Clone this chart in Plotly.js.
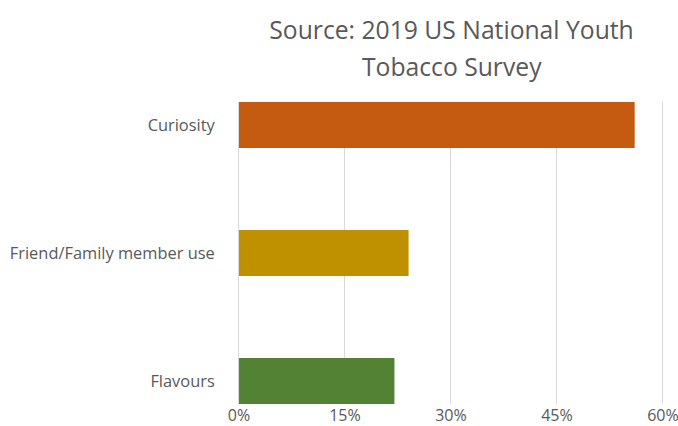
<!DOCTYPE html>
<html>
<head>
<meta charset="utf-8">
<script src="https://cdn.plot.ly/plotly-3.0.1.min.js"></script>
<style>html,body{margin:0;padding:0;background:#fff;}#chart{width:678px;height:426px;}</style>
</head>
<body>
<div id="chart"></div>
<script>
const categories = ["Curiosity", "Friend/Family member use", "Flavours"];
const values = [56, 24, 22];
const barColors = ["#c55a11", "#bf9000", "#548235"];
const xTickVals = [0, 15, 30, 45, 60];
const xTickText = ["0%", "15%", "30%", "45%", "60%"];
const titleLine1 = "Source: 2019 US National Youth";
const titleLine2 = "Tobacco Survey";

const FONT = "Open Sans, Liberation Sans, Arial, sans-serif";

const trace = {
  type: "bar",
  orientation: "h",
  y: categories,
  x: values,
  width: 0.36,
  marker: { color: barColors },
  hoverinfo: "x+y"
};

const layout = {
  width: 678,
  height: 426,
  margin: { l: 239, r: 14, t: 102, b: 22 },
  paper_bgcolor: "#ffffff",
  plot_bgcolor: "#ffffff",
  showlegend: false,
  font: { family: FONT, color: "#595959", size: 16 },
  title: {
    text: titleLine1,
    font: { size: 24.7, color: "#595959", family: FONT },
    x: 0.5, xref: "paper", xanchor: "center",
    y: 1 - 30 / 426, yref: "container", yanchor: "middle"
  },
  annotations: [{
    text: titleLine2,
    xref: "paper", yref: "paper",
    x: 0.5, y: 1 + 35 / 302,
    xanchor: "center", yanchor: "middle",
    showarrow: false,
    font: { size: 24.7, color: "#595959", family: FONT }
  }],
  xaxis: {
    range: [0, 60.15],
    tickvals: xTickVals,
    ticktext: xTickText,
    showgrid: true,
    gridcolor: "#d9d9d9",
    gridwidth: 1,
    zeroline: false,
    showline: false,
    ticks: "",
    ticklabeloverflow: "allow",
    tickfont: { size: 16, color: "#595959", family: FONT },
    fixedrange: true
  },
  yaxis: {
    type: "category",
    range: [2.18, -0.18],
    showgrid: false,
    zeroline: false,
    showline: true,
    linecolor: "#d9d9d9",
    linewidth: 1,
    ticks: "",
    ticklabelstandoff: 20,
    tickfont: { size: 16.4, color: "#595959", family: FONT },
    fixedrange: true
  }
};

Plotly.newPlot("chart", [trace], layout, { displayModeBar: false, staticPlot: true });
</script>
</body>
</html>
